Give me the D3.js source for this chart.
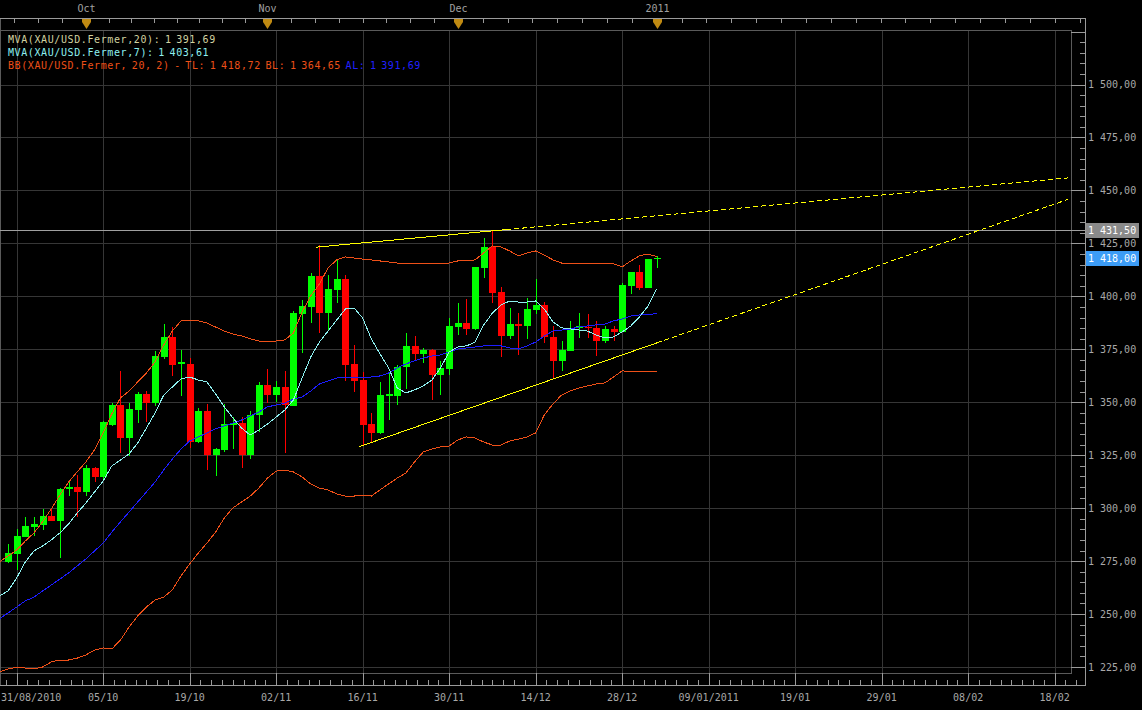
<!DOCTYPE html>
<html><head><meta charset="utf-8">
<script src="https://cdn.jsdelivr.net/npm/d3@7"></script>
<style>
html,body{margin:0;padding:0;background:#000;}
svg{display:block;}
text{font-family:"DejaVu Sans Mono",monospace;font-size:10px;}
</style></head><body>
<svg id="c" width="1142" height="710"></svg>
<script>
// ---------- DATA (index 0 = 20/09/2010 ... index 75 = 03/01/2011) ----------
const open  = [1274.7,1278.4,1286.4,1291.2,1292.0,1296.3,1294.1,1308.9,1309.8,1307.8,1318.8,1314.8,1339.1,1348.7,1333.3,1346.5,1353.9,1349.8,1371.4,1380.8,1368.4,1368.1,1331.2,1345.9,1325.1,1327.5,1339.4,1340.3,1325.1,1344.0,1358.1,1353.4,1357.2,1348.4,1391.7,1395.1,1409.7,1392.3,1403.1,1408.2,1368.1,1360.5,1339.7,1335.3,1353.1,1353.1,1366.4,1376.6,1372.8,1374.7,1362.9,1365.7,1385.7,1387.3,1384.6,1413.5,1423.2,1402.2,1381.4,1386.9,1386.1,1393.6,1395.9,1380.9,1369.5,1374.3,1385.4,1385.5,1385.2,1379.1,1384.6,1383.3,1405.0,1411.4,1404.1,1417.6];
const high  = [1282.9,1290.3,1295.8,1295.8,1299.6,1299.6,1309.4,1312.2,1315.7,1320.2,1319.2,1341.0,1349.5,1364.9,1349.5,1355.0,1355.3,1374.2,1386.9,1385.4,1374.7,1370.9,1347.1,1349.2,1328.4,1349.2,1343.2,1343.2,1346.0,1359.4,1365.7,1360.0,1364.8,1393.3,1398.3,1410.8,1424.0,1410.1,1417.6,1410.1,1377.0,1364.5,1344.9,1359.4,1363.8,1367.8,1382.6,1381.3,1375.8,1375.3,1369.5,1389.6,1396.7,1398.7,1414.0,1427.7,1431.5,1404.6,1394.6,1392.0,1399.1,1408.2,1397.5,1386.0,1379.1,1388.4,1392.0,1391.5,1388.4,1386.0,1386.0,1406.4,1411.6,1414.8,1417.6,1419.1];
const low   = [1274.2,1270.8,1286.2,1286.9,1289.9,1293.9,1276.6,1305.9,1296.0,1305.9,1312.5,1312.7,1338.9,1325.9,1324.8,1340.1,1340.8,1348.2,1370.4,1362.4,1353.0,1328.3,1330.8,1318.0,1315.3,1326.7,1327.9,1318.8,1323.2,1335.8,1349.5,1350.0,1325.9,1348.2,1373.4,1387.2,1382.8,1384.1,1397.0,1360.0,1354.8,1329.3,1331.1,1334.8,1341.6,1348.7,1356.3,1369.6,1368.4,1351.1,1353.4,1362.9,1381.7,1381.7,1384.1,1408.8,1396.7,1371.5,1379.9,1372.3,1379.9,1391.7,1377.8,1361.6,1364.9,1374.2,1380.2,1380.2,1372.0,1378.1,1379.1,1383.0,1401.1,1403.0,1404.0,1413.5];
const close = [1278.7,1286.9,1291.6,1292.5,1296.3,1293.9,1309.0,1309.8,1307.8,1318.8,1314.8,1340.5,1348.7,1333.3,1346.8,1353.9,1349.8,1371.8,1380.8,1367.6,1368.7,1331.4,1345.9,1325.1,1327.9,1339.7,1340.1,1325.1,1344.0,1358.1,1353.4,1357.2,1348.7,1392.1,1395.4,1409.7,1392.3,1403.5,1408.2,1367.6,1360.2,1339.3,1335.3,1353.4,1353.8,1366.5,1376.6,1373.0,1374.7,1362.9,1366.3,1386.0,1387.3,1384.6,1414.0,1423.2,1401.7,1381.4,1386.9,1386.1,1394.0,1395.9,1380.7,1369.5,1374.7,1385.2,1385.7,1385.0,1379.1,1384.4,1383.3,1405.4,1411.4,1404.1,1417.5,1418.0];

// indicator series, first value is index -1
const bbUpper = [1274.6,1277.4,1280.2,1284.5,1288.3,1293.5,1299.6,1306.2,1312.3,1317.1,1321.8,1327.5,1335.5,1344.5,1352.0,1355.3,1359.6,1363.8,1369.0,1377.0,1383.6,1388.4,1388.8,1388.4,1387.4,1385.5,1383.6,1382.2,1381.3,1379.9,1378.9,1378.9,1378.9,1379.4,1382.7,1392.6,1400.2,1405.8,1413.4,1417.2,1418.6,1418.1,1417.6,1417.2,1416.7,1416.2,1415.7,1415.7,1415.3,1415.3,1415.3,1415.3,1415.7,1416.7,1416.7,1417.2,1420.5,1423.8,1423.3,1421.4,1419.1,1420.5,1421.4,1419.5,1417.2,1415.7,1415.7,1415.7,1415.7,1415.7,1415.7,1415.3,1413.9,1416.7,1419.1,1420.0,1418.72];
const bbLower = [1222.6,1224.1,1224.8,1224.5,1224.1,1225.0,1227.4,1228.3,1228.3,1229.2,1230.7,1233.0,1234.0,1233.5,1237.7,1243.9,1249.1,1253.3,1256.6,1258.0,1261.4,1268.0,1273.6,1278.8,1283.5,1288.7,1295.3,1300.1,1302.9,1305.7,1309.5,1314.2,1317.5,1318.0,1317.1,1314.7,1311.4,1309.5,1308.6,1306.7,1305.7,1305.7,1306.2,1305.7,1308.6,1311.4,1314.2,1316.6,1321.8,1326.5,1327.9,1328.9,1329.3,1332.2,1333.6,1333.1,1331.2,1329.8,1329.8,1331.7,1332.6,1333.6,1335.5,1344.0,1349.2,1353.4,1355.3,1356.7,1357.7,1358.6,1359.1,1361.9,1364.8,1364.5,1364.3,1364.3,1364.65];
const ma20 = [1247.7,1250.5,1253.3,1256.2,1258.0,1260.9,1263.7,1266.5,1269.4,1272.7,1276.0,1279.8,1283.5,1288.7,1293.5,1298.2,1302.9,1307.6,1312.3,1318.0,1323.2,1327.9,1331.7,1333.6,1335.5,1337.4,1338.8,1340.2,1341.6,1343.5,1345.4,1347.8,1348.7,1349.6,1351.5,1352.5,1355.3,1358.6,1360.0,1361.4,1361.9,1361.9,1361.9,1361.9,1362.4,1363.8,1366.2,1368.1,1369.5,1370.9,1371.8,1372.3,1373.7,1375.1,1375.6,1376.1,1376.6,1377.0,1376.6,1375.6,1375.1,1376.6,1378.4,1381.3,1383.6,1384.1,1384.6,1385.5,1386.0,1386.5,1386.9,1388.4,1389.3,1390.7,1391.2,1391.6,1391.69];
const ma7 = [1258.5,1260.9,1267.0,1274.6,1279.8,1282.1,1285.0,1288.3,1292.5,1297.7,1302.4,1307.6,1312.8,1319.9,1322.7,1325.6,1330.8,1337.8,1344.9,1353.4,1357.2,1361.0,1361.9,1360.5,1359.6,1353.9,1347.8,1342.6,1337.8,1334.5,1336.9,1339.7,1343.0,1346.3,1351.1,1361.4,1371.4,1378.4,1383.6,1388.8,1394.0,1394.5,1389.8,1379.9,1372.8,1366.2,1356.7,1354.4,1355.8,1357.7,1360.5,1366.2,1373.7,1376.1,1376.6,1378.4,1386.5,1392.1,1395.9,1397.8,1397.3,1397.3,1397.8,1394.0,1387.9,1385.1,1384.6,1384.1,1383.6,1381.7,1380.3,1380.8,1383.2,1386.0,1390.3,1395.4,1403.61];

// trend lines: [index, price]
const trendUpperSolid  = [[35.6,1423.2],[57.6,1431.5]];
const trendUpperDashed = [[57.6,1431.5],[122.5,1455.9]];
const trendLowerSolid  = [[40.6,1329.0],[75,1378.0]];
const trendLowerDashed = [[75,1378.0],[122.5,1445.7]];

const lastHigh = 1431.5, lastClose = 1418.0;

const dateTickIdx = [1,11,21,31,41,51,61,71,81,91,101,111,121];
const dateTickLabels = ["31/08/2010","05/10","19/10","02/11","16/11","30/11","14/12","28/12","09/01/2011","19/01","29/01","08/02","18/02"];
const monthIdx = [-13,9,30,52,75];
const monthLabels = ["Oct","Nov","Dec","2011"];
const priceTicks = [1225,1250,1275,1300,1325,1350,1375,1400,1425,1450,1475,1500];

const legend1 = "MVA(XAU/USD.Fermer,20): 1 391,69";
const legend2 = "MVA(XAU/USD.Fermer,7): 1 403,61";
const legend3 = "BB(XAU/USD.Fermer, 20, 2) - TL: 1 418,72 BL: 1 364,65 ";
const legend3b = "AL: 1 391,69";

// ---------- LAYOUT ----------
const plotR = 1071, plotT = 30, plotB = 673, axisX = 1085, axisB = 685, topAxisY = 18;
const x = d3.scaleLinear().domain([0, 1]).range([8, 16.65]);
const y = d3.scaleLinear().domain([1225, 1500]).range([667, 84.5]);
const fmt = d3.formatLocale({decimal:",", thousands:" ", grouping:[3], currency:["",""]}).format(",.2f");
const cr = v => Math.round(v) + 0.5;

const svg = d3.select("#c");
svg.append("rect").attr("width",1142).attr("height",710).attr("fill","#000");

svg.append("defs").append("clipPath").attr("id","clip")
  .append("rect").attr("x",0).attr("y",plotT).attr("width",plotR).attr("height",plotB-plotT);

// grid
const grid = svg.append("g").attr("stroke","#363636").attr("stroke-width",1).attr("shape-rendering","crispEdges");
priceTicks.forEach(v => grid.append("line").attr("x1",0).attr("x2",plotR).attr("y1",cr(y(v))).attr("y2",cr(y(v))));
dateTickIdx.forEach(i => grid.append("line").attr("x1",cr(x(i))).attr("x2",cr(x(i))).attr("y1",plotT).attr("y2",plotB));

// frame
const frame = svg.append("g").attr("stroke","#5a5a5a").attr("fill","none").attr("shape-rendering","crispEdges");
frame.append("line").attr("x1",0).attr("x2",plotR+0.5).attr("y1",plotT+0.5).attr("y2",plotT+0.5);
frame.append("line").attr("x1",plotR+0.5).attr("x2",plotR+0.5).attr("y1",plotT).attr("y2",plotB+0.5);
frame.append("line").attr("x1",0).attr("x2",plotR+0.5).attr("y1",plotB+0.5).attr("y2",plotB+0.5);
frame.append("line").attr("x1",0.5).attr("x2",0.5).attr("y1",topAxisY).attr("y2",axisB);

// axes lines
const ax = svg.append("g").attr("stroke","#9a9a9a").attr("fill","none").attr("shape-rendering","crispEdges");
ax.append("line").attr("x1",0).attr("x2",axisX+0.5).attr("y1",topAxisY+0.5).attr("y2",topAxisY+0.5);
ax.append("line").attr("x1",axisX+0.5).attr("x2",axisX+0.5).attr("y1",topAxisY).attr("y2",axisB+0.5);
ax.append("line").attr("x1",0).attr("x2",axisX+0.5).attr("y1",axisB+0.5).attr("y2",axisB+0.5);

// right axis ticks
d3.range(1220, 1526, 5).forEach(v => {
  const yy = cr(y(v));
  if (yy < plotT || yy > plotB) return;
  const major = v % 25 === 0;
  ax.append("line").attr("x1", major ? plotR : axisX-5).attr("x2",axisX).attr("y1",yy).attr("y2",yy);
});
svg.append("g").selectAll("text").data(priceTicks).join("text")
  .attr("x",1088).attr("y",v => y(v)+3.7).attr("fill","#a8a8a8").text(v => fmt(v));

// bottom axis ticks
dateTickIdx.forEach(i => ax.append("line").attr("x1",cr(x(i))).attr("x2",cr(x(i))).attr("y1",plotB).attr("y2",axisB));
for (let t = 1 - 1.25; t < 125; t += 1.25) {
  if (Math.abs(((t - 1) / 10) - Math.round((t - 1) / 10)) < 1e-6) continue;
  const xx = cr(x(t));
  if (xx > axisX) break;
  ax.append("line").attr("x1",xx).attr("x2",xx).attr("y1",axisB-5).attr("y2",axisB);
}
svg.append("g").selectAll("text").data(dateTickIdx).join("text")
  .attr("x",(i,k) => k === 0 ? 1 : x(i))
  .attr("text-anchor",(i,k) => k === 0 ? "start" : "middle")
  .attr("y",701).attr("fill","#a8a8a8")
  .text((i,k) => dateTickLabels[k]);

// top axis ticks
const topTicks = [];
for (let m = 0; m < monthIdx.length - 1; m++) {
  const a = monthIdx[m], b = monthIdx[m+1];
  for (let k = 0; k < 8; k++) topTicks.push(a + (b - a) * k / 8);
}
const lastStep = (monthIdx[4] - monthIdx[3]) / 8;
for (let t = monthIdx[4]; x(t) < axisX; t += lastStep) topTicks.push(t);
topTicks.forEach(t => {
  const xx = cr(x(t));
  if (xx < 0 || xx > axisX) return;
  ax.append("line").attr("x1",xx).attr("x2",xx).attr("y1",topAxisY).attr("y2",topAxisY+5);
});
monthIdx.slice(1).forEach((i,k) => {
  const xx = Math.round(x(i)) + 0.5;
  svg.append("path")
    .attr("d",`M${xx-4.5},${topAxisY+1}L${xx+4.5},${topAxisY+1}L${xx+4.5},${topAxisY+4}L${xx},${topAxisY+11}L${xx-4.5},${topAxisY+4}Z`)
    .attr("fill","#c08a12");
  svg.append("text").attr("x",xx).attr("y",12).attr("text-anchor","middle").attr("fill","#a0a0a0").text(monthLabels[k]);
});

// last-high horizontal line
svg.append("line").attr("x1",0).attr("x2",axisX).attr("y1",cr(y(lastHigh))).attr("y2",cr(y(lastHigh)))
  .attr("stroke","#a0a0a0").attr("shape-rendering","crispEdges");

const plot = svg.append("g").attr("clip-path","url(#clip)");

// candles
const candles = plot.append("g").attr("shape-rendering","crispEdges");
open.forEach((o,i) => {
  const c = close[i], up = c >= o;
  const col = up ? "#00ff00" : "#ff0000";
  const xc = Math.round(x(i));
  candles.append("line").attr("x1",xc+0.5).attr("x2",xc+0.5)
    .attr("y1",y(high[i])).attr("y2",y(low[i])).attr("stroke",col);
  const yt = y(Math.max(o,c)), yb = y(Math.min(o,c));
  const h = Math.max(1.5, yb - yt);
  candles.append("rect").attr("x",xc-3).attr("width",7)
    .attr("y",h === 1.5 ? (yt+yb)/2 - 0.75 : yt).attr("height",h).attr("fill",col);
});

// indicator lines
const lineGen = d3.line().x(d => x(d[0])).y(d => y(d[1]));
const series = (arr) => arr.map((v,k) => [k - 1, v]);
[[bbUpper,"#ee5018"],[bbLower,"#ee5018"],[ma20,"#1c1cff"],[ma7,"#8ef0f0"]].forEach(([arr,col]) => {
  plot.append("path").attr("d",lineGen(series(arr))).attr("fill","none").attr("stroke",col)
    .attr("stroke-width",1).attr("shape-rendering","crispEdges");
});

// trend lines
[[trendUpperSolid,null],[trendUpperDashed,"5,3"],[trendLowerSolid,null],[trendLowerDashed,"5,3"]].forEach(([pts,dash]) => {
  const p = plot.append("path").attr("d",lineGen(pts)).attr("fill","none").attr("stroke","#ffff00")
    .attr("stroke-width",1).attr("shape-rendering","crispEdges");
  if (dash) p.attr("stroke-dasharray",dash);
});

// price boxes
[[lastHigh,"#8a8a8a"],[lastClose,"#3c9cf6"]].forEach(([v,col]) => {
  const yy = Math.round(y(v));
  svg.append("rect").attr("x",axisX+1).attr("y",yy-7).attr("width",53).attr("height",15).attr("fill",col);
  svg.append("text").attr("x",1088).attr("y",yy+4).attr("fill","#ffffff").text(fmt(v));
});

// legend
const lg = svg.append("g").attr("style","letter-spacing:0.6px;word-spacing:-2px");
lg.append("text").attr("x",8).attr("y",43).attr("fill","#d2d2a0").text(legend1);
lg.append("text").attr("x",8).attr("y",56).attr("fill","#8ef0f0").text(legend2);
const t3 = lg.append("text").attr("x",8).attr("y",69).attr("fill","#ee5018").attr("xml:space","preserve");
t3.append("tspan").text(legend3);
t3.append("tspan").attr("fill","#2020ff").text(legend3b);
</script>
</body></html>
